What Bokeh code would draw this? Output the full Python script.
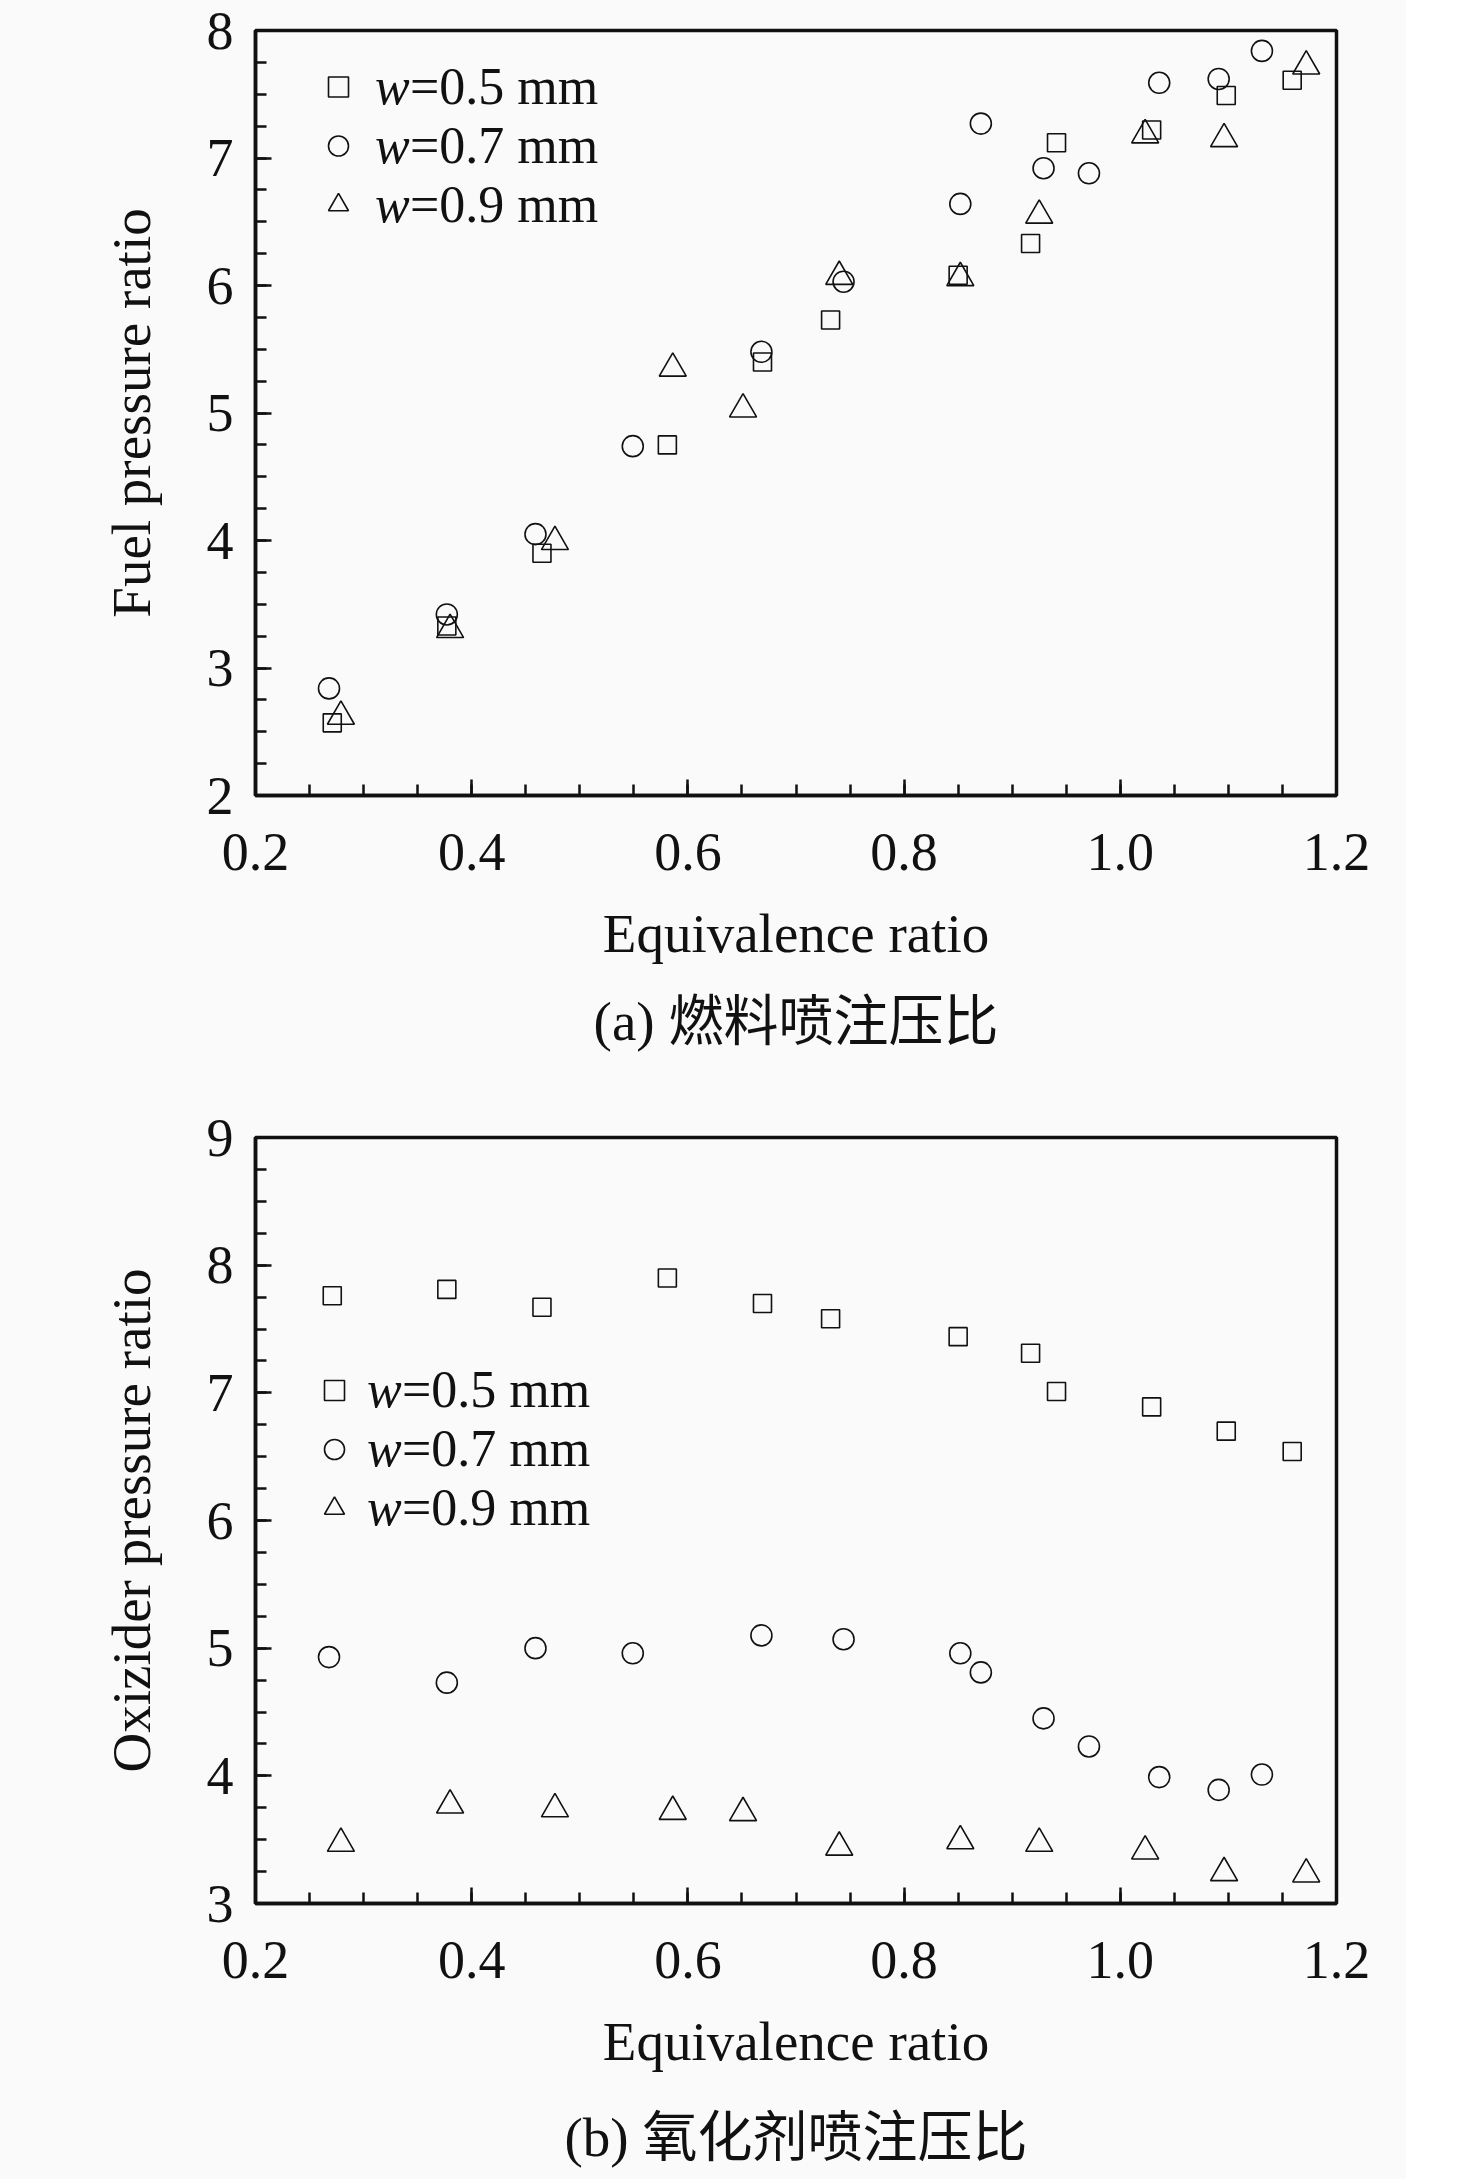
from bokeh.plotting import figure
from bokeh.models import (Range1d, FixedTicker, PrintfTickFormatter, Legend,
                          LegendItem, Title)
from bokeh.layouts import column
from bokeh.embed import file_html
from bokeh.resources import INLINE

# ---------------- data ----------------
phi_05 = [0.271, 0.377, 0.465, 0.581, 0.669, 0.732, 0.850, 0.917, 0.941, 1.029, 1.098, 1.159]
phi_07 = [0.268, 0.377, 0.459, 0.549, 0.668, 0.744, 0.852, 0.871, 0.929, 0.971, 1.036, 1.091, 1.131]
phi_09 = [0.279, 0.380, 0.477, 0.586, 0.651, 0.740, 0.852, 0.925, 1.023, 1.096, 1.172]

fuel_05 = [2.57, 3.33, 3.90, 4.75, 5.40, 5.73, 6.08, 6.33, 7.12, 7.22, 7.49, 7.61]
fuel_07 = [2.84, 3.42, 4.05, 4.74, 5.48, 6.03, 6.64, 7.27, 6.92, 6.88, 7.59, 7.62, 7.84]
fuel_09 = [2.62, 3.30, 3.99, 5.35, 5.03, 6.07, 6.06, 6.55, 7.18, 7.15, 7.72]

ox_05 = [7.76, 7.81, 7.67, 7.90, 7.70, 7.58, 7.44, 7.31, 7.01, 6.89, 6.70, 6.54]
ox_07 = [4.93, 4.73, 5.00, 4.96, 5.10, 5.07, 4.96, 4.81, 4.45, 4.23, 3.99, 3.89, 4.01]
ox_09 = [3.47, 3.77, 3.74, 3.72, 3.71, 3.44, 3.49, 3.47, 3.41, 3.24, 3.23]

x_ticks = [0.2, 0.4, 0.6, 0.8, 1.0, 1.2]
x_minor = [round(0.2 + 0.05 * i, 2) for i in range(21)]
fuel_ticks = [2, 3, 4, 5, 6, 7, 8]
ox_ticks = [3, 4, 5, 6, 7, 8, 9]

series_labels = ["=0.5 mm", "=0.7 mm", "=0.9 mm"]
x_title = "Equivalence ratio"
y_title_a = "Fuel pressure ratio"
y_title_b = "Oxizider pressure ratio"
caption_a = "(a) 燃料喷注压比"
caption_b = "(b) 氧化剂喷注压比"

BG = "#fafafa"
INK = "#111111"
SERIF = "Liberation Serif"
LEG_FS = 52
W_ADV = 35  # advance of the italic "w" at LEG_FS


def panel(ylabel, ys, yticks, caption, frame_h, top_b, bot_b, leg_x, leg_y,
          row_h, stand, cap_standoff):
    y0, y1 = yticks[0], yticks[-1]
    p = figure(frame_width=1081, frame_height=frame_h,
               x_range=Range1d(0.2, 1.2), y_range=Range1d(y0, y1),
               output_backend="svg", toolbar_location=None,
               min_border_left=255, min_border_right=70,
               min_border_top=top_b, min_border_bottom=bot_b,
               background_fill_color=BG, border_fill_color=BG)
    p.grid.visible = False
    p.outline_line_color = INK
    p.outline_line_width = 3.5

    p.xaxis.ticker = FixedTicker(ticks=x_ticks, minor_ticks=x_minor)
    p.xaxis.formatter = PrintfTickFormatter(format="%.1f")
    y_minor = [y0 + 0.25 * i for i in range(int((y1 - y0) * 4) + 1)]
    p.yaxis.ticker = FixedTicker(ticks=yticks, minor_ticks=y_minor)
    p.yaxis.formatter = PrintfTickFormatter(format="%d")

    for ax in (p.xaxis[0], p.yaxis[0]):
        ax.axis_line_width = 3.5
        ax.axis_line_color = INK
        ax.major_tick_in = 16
        ax.major_tick_out = 0
        ax.minor_tick_in = 11
        ax.minor_tick_out = 0
        ax.major_tick_line_width = 2.5
        ax.minor_tick_line_width = 2.5
        ax.major_tick_line_color = INK
        ax.minor_tick_line_color = INK
        ax.major_label_text_font = SERIF
        ax.major_label_text_font_size = "54px"
        ax.major_label_text_color = INK
        ax.axis_label_text_font = SERIF
        ax.axis_label_text_font_size = "55px"
        ax.axis_label_text_font_style = "normal"
        ax.axis_label_text_color = INK
    p.xaxis.axis_label = x_title
    p.yaxis.axis_label = ylabel
    p.xaxis.major_label_standoff = 38
    p.xaxis.axis_label_standoff = 30
    p.yaxis.major_label_standoff = 22
    p.yaxis.axis_label_standoff = 42

    ya, yb, yc = ys
    kw = dict(fill_alpha=0, line_color=INK, line_width=1.6)
    r1 = p.scatter(phi_05, ya, marker="square", size=18, **kw)
    r2 = p.scatter(phi_07, yb, marker="circle", size=21, **kw)
    r3 = p.scatter(phi_09, yc, marker="triangle", size=27, **kw)

    common = dict(padding=0, margin=0, spacing=0, glyph_height=row_h,
                  label_height=row_h, background_fill_alpha=0,
                  border_line_alpha=0, label_text_font=SERIF,
                  label_text_font_size=f"{LEG_FS}px", label_text_color=INK)
    legA = Legend(items=[LegendItem(label="w", renderers=[r]) for r in (r1, r2, r3)],
                  location=(leg_x, leg_y), glyph_width=50, label_standoff=stand,
                  label_text_font_style="italic", **common)
    dummies = [p.scatter([], [], marker="square", size=0, line_alpha=0, fill_alpha=0)
               for _ in range(3)]
    legB = Legend(items=[LegendItem(label=t, renderers=[d]) for t, d in zip(series_labels, dummies)],
                  location=(leg_x + 50 + stand + W_ADV, leg_y), glyph_width=0,
                  label_standoff=0, label_text_font_style="normal", **common)
    p.add_layout(legA)
    p.add_layout(legB)

    p.add_layout(Title(text=caption, align="center", text_font_size="55px",
                       text_font=SERIF + ", Noto Sans CJK SC", text_font_style="normal",
                       text_color=INK, standoff=cap_standoff), "below")
    return p


pa = panel(y_title_a, (fuel_05, fuel_07, fuel_09), fuel_ticks, caption_a,
           765, 30, 285, 58, 561, 57, 12, 45)
pb = panel(y_title_b, (ox_05, ox_07, ox_09), ox_ticks, caption_b,
           766, 57, 276, 54, 366, 58, 8, 61)

layout = column(pa, pb, spacing=0)
layout.background = BG
open("out.html", "w").write(file_html(layout, INLINE))
